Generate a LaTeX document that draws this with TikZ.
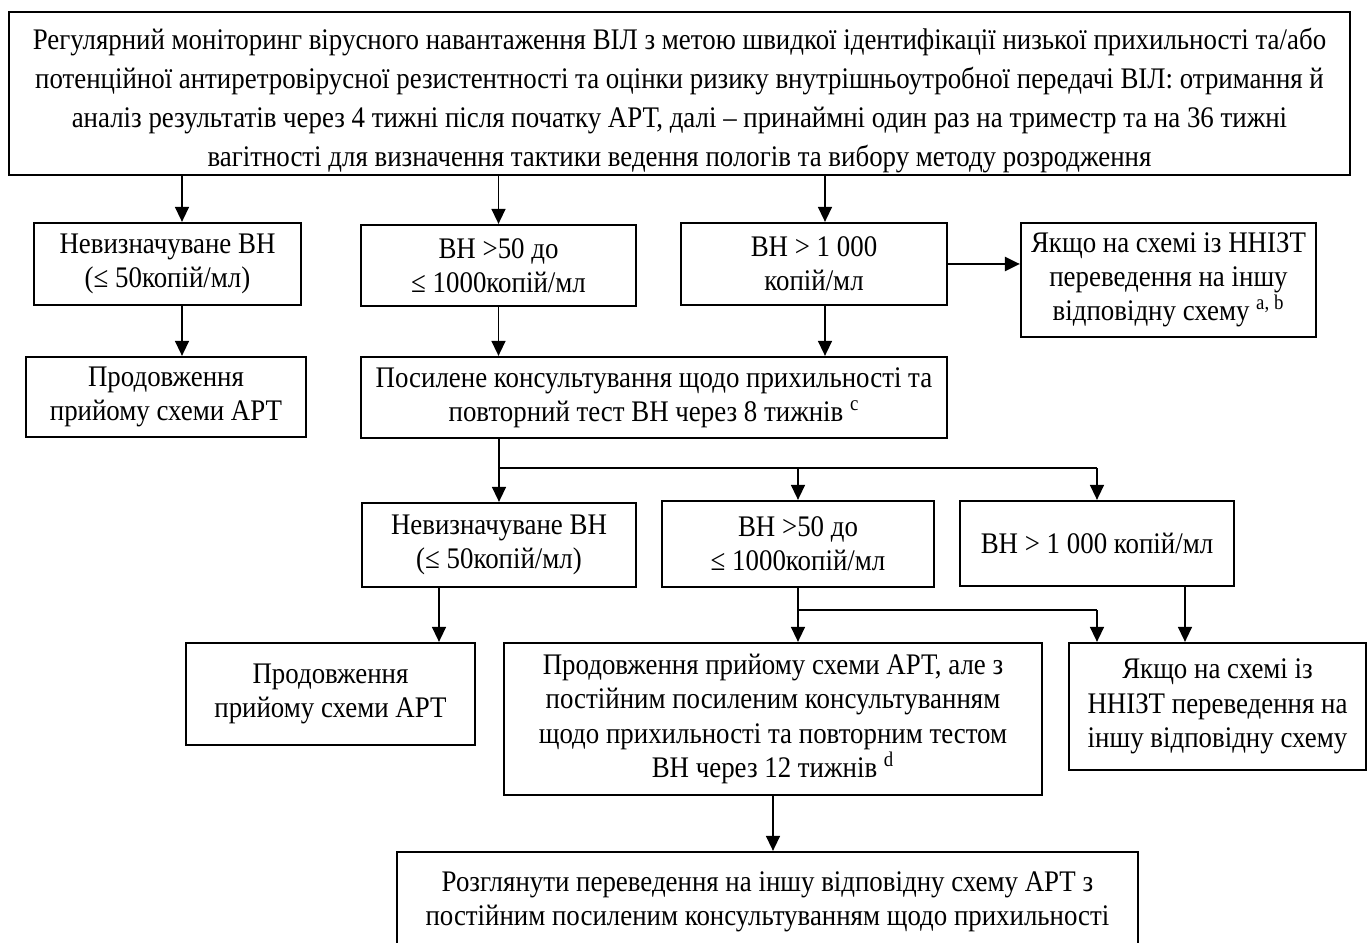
\documentclass[tikz,border=0pt]{standalone}
\usepackage{fontspec}
\setmainfont{Liberation Serif}[FakeStretch=0.9]
\usepackage{tikz}
\usetikzlibrary{calc,positioning}
\usetikzlibrary{arrows.meta}
\tikzset{>={Triangle[width=2.8mm,length=3mm]}}

\begin{document}
\begin{tikzpicture}
        \tikzstyle{bnode} = [line width=0.45mm, draw=black, rectangle, inner sep=0pt, align=center, font=\fontsize{17pt}{19.5pt}\selectfont]
        \tikzstyle{tnode} = [align=center, inner sep=0pt, font=\fontsize{17pt}{22.2pt}\selectfont]
        \tikzstyle{arr} = [->, line width=0.3mm]
        \tikzstyle{hline} = [line width=0.45mm]

        \useasboundingbox (0,0) rectangle (27.38,-18.86);

        % first test
        \node[bnode, minimum width=26.82cm, minimum height=3.26cm] (mntr) at (13.59,-1.87) {};
        \node[tnode] (mtxt) at (13.59,-2.01) {Регулярний моніторинг вірусного навантаження ВІЛ з метою швидкої ідентифікації низької прихильності та/або\\
        потенційної антиретровірусної резистентності та оцінки ризику внутрішньоутробної передачі ВІЛ: отримання й\\
        аналіз результатів через 4 тижні після початку АРТ, далі – принаймні один раз на триместр та на 36 тижні\\
        вагітності для визначення тактики ведення пологів та вибору методу розродження};

        \node[bnode, minimum width=5.34cm, minimum height=1.64cm] (undt) at (3.35,-5.28) {Невизначуване ВН\\(≤ 50копій/мл)};
        \node[bnode, minimum width=5.50cm, minimum height=1.62cm] (medm) at (9.97,-5.31) {ВН >50 до\\≤ 1000копій/мл};
        \node[bnode, minimum width=5.32cm, minimum height=1.64cm] (high) at (16.28,-5.28) {ВН > 1 000\\копій/мл};
        \node[bnode, minimum width=5.90cm, minimum height=2.28cm] (swtc) at (23.37,-5.60) {Якщо на схемі із ННІЗТ\\переведення на іншу\\відповідну схему \textsuperscript{a, b}};

        \node[bnode, minimum width=5.60cm, minimum height=1.60cm] (cont) at (3.32,-7.94) {Продовження\\прийому схеми АРТ};
        \node[bnode, minimum width=11.72cm, minimum height=1.62cm] (cnsl) at (13.08,-7.95) {Посилене консультування щодо прихильності та\\повторний тест ВН через 8 тижнів \textsuperscript{c}};

        % second test
        \node[bnode, minimum width=5.48cm, minimum height=1.68cm] (und2) at (9.98,-10.90) {Невизначуване ВН\\(≤ 50копій/мл)};
        \node[bnode, minimum width=5.44cm, minimum height=1.72cm] (med2) at (15.96,-10.88) {ВН >50 до\\≤ 1000копій/мл};
        \node[bnode, minimum width=5.48cm, minimum height=1.70cm] (hig2) at (21.94,-10.87) {ВН > 1 000 копій/мл};

        \node[bnode, minimum width=5.78cm, minimum height=2.04cm] (con2) at (6.61,-13.88) {Продовження\\прийому схеми АРТ};
        \node[bnode, minimum width=10.76cm, minimum height=3.04cm] (conh) at (15.46,-14.38) {Продовження прийому схеми АРТ, але з\\постійним посиленим консультуванням\\щодо прихильності та повторним тестом\\ВН через 12 тижнів \textsuperscript{d}};
        \node[bnode, minimum width=5.94cm, minimum height=2.54cm] (swt2) at (24.35,-14.13) {Якщо на схемі із\\ННІЗТ переведення на\\іншу відповідну схему};

        \node[bnode, minimum width=14.82cm, minimum height=2.00cm] (rvsw) at (15.35,-18.04) {Розглянути переведення на іншу відповідну схему АРТ з\\постійним посиленим консультуванням щодо прихильності};

        % arrows
        \draw[arr] ([xshift=2.9mm]undt.north |- mntr.south) -- ([xshift=2.9mm]undt.north);
        \draw[arr] (medm.north |- mntr.south) -- (medm.north);
        \draw[arr] ([xshift=2.2mm]high.north |- mntr.south) -- ([xshift=2.2mm]high.north);
        \draw[arr, hline] (high.east) -- (high.east -| swtc.west);

        \draw[arr] ([xshift=2.9mm]undt.south) -- ([xshift=2.9mm]undt.south |- cont.north);
        \draw[arr] (medm.south) -- (medm.south |- cnsl.north);
        \draw[arr] ([xshift=2.2mm]high.south) -- ([xshift=2.2mm]high.south |- cnsl.north);

        \coordinate (splt) at ($(und2.north |- cnsl.south)+(0,-0.58)$);
        \draw[line width=0.3mm] (und2.north |- cnsl.south) -- (splt);
        \draw[hline] (splt) -- (splt -| hig2.north);
        \draw[arr] (splt) -- (und2.north);
        \draw[arr] (splt -| med2.north) -- (med2.north);
        \draw[arr] (splt -| hig2.north) -- (hig2.north);

        \coordinate (brch) at ($(med2.south)+(0,-0.44)$);
        \draw[arr] ([xshift=-12mm]und2.south) -- ([xshift=-12mm]und2.south |- con2.north);
        \draw[arr] (med2.south) -- (med2.south |- conh.north);
        \draw[hline] (brch) -- (brch -| hig2.north);
        \draw[arr] (brch -| hig2.north) -- (hig2.north |- swt2.north);
        \draw[arr] ([xshift=17.6mm]hig2.south) -- ([xshift=17.6mm]hig2.south |- swt2.north);

        \draw[arr] (conh.south) -- (conh.south |- rvsw.north);
\end{tikzpicture}
\end{document}
